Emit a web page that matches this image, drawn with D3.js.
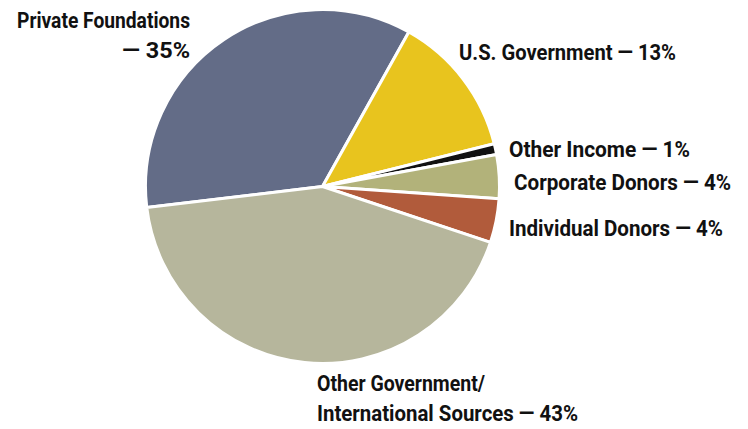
<!DOCTYPE html>
<html><head><meta charset="utf-8">
<script src="https://cdn.jsdelivr.net/npm/d3@7"></script>
<style>
body{margin:0;background:#fff;}
text{font-family:Roboto,"Liberation Sans",sans-serif;font-weight:bold;fill:#111;}
</style></head>
<body><svg id="c" width="748" height="429"></svg>
<script>
const categories = ["Private Foundations","U.S. Government","Other Income","Corporate Donors","Individual Donors","Other Government/International Sources"];
const values = [35,13,1,4,4,43];
const colors = ["#636c87","#e8c41e","#111111","#b2b27a","#b15b3b","#b6b69c"];
const labelLines = [
  ["Private Foundations","— 35%"],
  ["U.S. Government — 13%"],
  ["Other Income — 1%"],
  ["Corporate Donors — 4%"],
  ["Individual Donors — 4%"],
  ["Other Government/","International Sources — 43%"]
];
// layout: anchor positions and target line widths (px)
const labelPos = [
  {x:190,y:28,anchor:"end",w:[173,68]},
  {x:459,y:60,anchor:"start",w:[217]},
  {x:509,y:157,anchor:"start",w:[181]},
  {x:514,y:190,anchor:"start",w:[217]},
  {x:509,y:236,anchor:"start",w:[214]},
  {x:317,y:391,anchor:"start",w:[168,261]}
];
const svg = d3.select("#c");
const cx=322.5, cy=186.5, r=177;
const deg = Math.PI/180;
const pie = d3.pie().sort(null).value(d=>d).startAngle(-96.8*deg).endAngle(263.2*deg);
const arc = d3.arc().innerRadius(0).outerRadius(r);
const g = svg.append("g").attr("transform",`translate(${cx},${cy})`);
g.selectAll("path").data(pie(values)).join("path")
  .attr("d",arc).attr("fill",(d,i)=>colors[i])
  .attr("stroke","#fff").attr("stroke-width",3).attr("stroke-linejoin","round");
labelLines.forEach((lines,i)=>{
  const p=labelPos[i];
  lines.forEach((l,j)=>{
    svg.append("text").attr("x",p.x).attr("y",p.y+j*29.5)
      .attr("text-anchor",p.anchor).attr("font-size",22)
      .attr("textLength",p.w[j]).attr("lengthAdjust","spacingAndGlyphs")
      .text(l);
  });
});
</script></body></html>
